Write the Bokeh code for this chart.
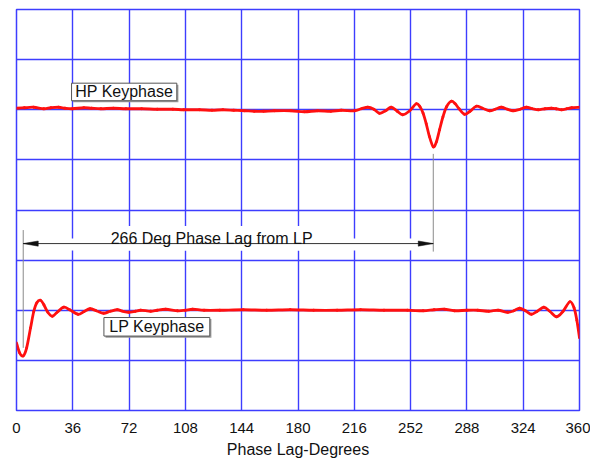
from bokeh.plotting import figure
from bokeh.models import Range1d, FixedTicker
from bokeh.core.properties import value
from bokeh.embed import file_html
from bokeh.resources import INLINE

# ---- data ----
x_ticks = [0, 36, 72, 108, 144, 180, 216, 252, 288, 324, 360]
y_grid = [0, 1, 2, 3, 4, 5, 6, 7, 8]

hp_x = [0, 5, 11, 17.5, 22, 27, 31, 35.7, 43, 48,
        54, 62, 70, 80, 90, 100, 107, 117, 125, 132,
        139, 146, 152, 158, 165, 175.5, 184, 192.6, 201, 207.6,
        216, 220.5, 224.7, 228.5, 232, 236, 239.6, 243.5, 247, 251.5,
        255.6, 258, 260, 262, 264, 266.5, 268.5, 270.5, 272.7, 275,
        278, 280.5, 283, 286.5, 290, 294, 298, 302.6, 306, 310,
        314, 317.5, 322, 326, 330, 333.6, 338, 342, 345, 348.5,
        352, 355, 360]
hp_y = [6.03, 6.04, 6.05, 6.02, 6.04, 6.05, 6.03, 6.02, 6.04, 6.03,
        6.02, 6.03, 6.02, 6.02, 6.01, 6.01, 6.00, 6.00, 5.99, 6.00,
        5.99, 5.98, 5.97, 5.97, 5.98, 5.98, 5.96, 5.98, 5.97, 5.99,
        5.98, 6.02, 6.05, 6.01, 5.93, 5.98, 6.05, 5.97, 5.90, 5.98,
        6.12, 6.06, 5.93, 5.72, 5.47, 5.26, 5.36, 5.60, 5.86, 6.06,
        6.17, 6.12, 6.02, 5.91, 5.97, 6.07, 6.03, 5.98, 6.01, 6.05,
        6.01, 5.98, 6.01, 6.05, 6.02, 6.00, 6.02, 6.03, 6.02, 6.00,
        6.02, 6.04, 6.05]

lp_x = [0, 2, 4.3, 6.5, 9, 11, 13, 15.4, 17.5, 20,
        22.9, 26, 30.3, 34, 39.3, 43, 47, 51, 55.7, 60,
        64.5, 68, 71.7, 76, 79.4, 85.8, 90, 95.4, 103, 108,
        112.6, 120, 130, 145, 160, 175, 190, 205, 220, 235,
        250, 260, 267, 273.6, 280, 288, 295, 302, 308, 314,
        318, 321.7, 325.5, 329.3, 333, 337.2, 341, 345.3, 349.5, 353.8,
        356.5, 358.3, 360]
lp_y = [1.35, 1.15, 1.09, 1.25, 1.65, 1.97, 2.15, 2.20, 2.11, 1.96,
        1.88, 1.96, 2.06, 2.01, 1.92, 1.97, 2.03, 1.99, 1.94, 1.98,
        2.01, 1.98, 1.96, 1.98, 2.00, 1.98, 2.00, 2.02, 1.99, 2.00,
        2.02, 2.00, 2.00, 2.01, 2.00, 2.01, 2.00, 2.00, 2.01, 2.00,
        2.00, 1.99, 2.01, 2.02, 1.99, 2.00, 2.00, 1.98, 2.00, 1.96,
        1.99, 2.04, 1.99, 1.92, 1.98, 2.06, 1.98, 1.87, 1.98, 2.17,
        2.05, 1.80, 1.45]

lag_start = 4.3      # LP keyphase event (deg)
lag_end = 266.5      # HP keyphase event (deg)
lag_label = "266 Deg Phase Lag from LP"
hp_label = "HP Keyphase"
lp_label = "LP Keyphase"
x_title = "Phase Lag-Degrees"

FONT = "Liberation Sans"
GRID = "#3d3dff"
RED = "#ff1010"

p = figure(width=590, height=460, output_backend="svg", toolbar_location=None,
           x_range=Range1d(0, 360), y_range=Range1d(0, 8),
           y_axis_location=None,
           min_border_left=16, min_border_right=11, min_border_top=9,
           min_border_bottom=47)
p.background_fill_color = "white"
p.border_fill_color = "white"
p.outline_line_color = GRID
p.outline_line_width = 1.5

p.xaxis.ticker = FixedTicker(ticks=x_ticks)
p.xgrid.ticker = FixedTicker(ticks=x_ticks)
p.ygrid.ticker = FixedTicker(ticks=y_grid)
for g in (p.xgrid, p.ygrid):
    g.grid_line_color = GRID
    g.grid_line_width = 1.4
p.xaxis.axis_line_color = None
p.xaxis.major_tick_line_color = None
p.xaxis.minor_tick_line_color = None
p.xaxis.major_label_standoff = 6
p.xaxis.major_label_text_font = FONT
p.xaxis.major_label_text_font_size = "15px"
p.xaxis.major_label_text_color = "#111111"
p.xaxis.axis_label = x_title
p.xaxis.axis_label_text_font = FONT
p.xaxis.axis_label_text_font_size = "16px"
p.xaxis.axis_label_text_font_style = "normal"
p.xaxis.axis_label_text_color = "#111111"
p.xaxis.axis_label_standoff = 5

# pixel scale helpers (frame 563 x 404 px)
dx = 360 / 563
dy = 8 / 404

# white masks behind the arrow and its text
p.quad(left=lag_start - 1, right=lag_end + 1, bottom=3.19, top=3.43,
       fill_color="white", line_color=None)
p.quad(left=56, right=194, bottom=3.19, top=3.68,
       fill_color="white", line_color=None)

# marker lines
p.segment(x0=[lag_start, lag_end], y0=[1.25, 5.12], x1=[lag_start, lag_end], y1=[3.6, 3.17],
          line_color="#8a8a8a", line_width=1)

# arrow line and heads
arrow_y = 3.33
head_len = 15 * dx
head_hw = 2.6 * dy
p.segment(x0=[lag_start], y0=[arrow_y], x1=[lag_end], y1=[arrow_y],
          line_color="#333333", line_width=1)
p.patches(xs=[[lag_start, lag_start + head_len, lag_start + head_len],
              [lag_end, lag_end - head_len, lag_end - head_len]],
          ys=[[arrow_y, arrow_y + head_hw, arrow_y - head_hw],
              [arrow_y, arrow_y + head_hw, arrow_y - head_hw]],
          fill_color="#111111", line_color="#111111", line_width=0.5)

p.text(x=[60.2], y=[3.43], text=[lag_label], text_font=value(FONT),
       text_font_size="16px", text_color="#111111",
       text_align="left", text_baseline="alphabetic")

# traces: smooth curves through the read points (Catmull-Rom -> Bezier glyphs)
def smooth_trace(xs, ys):
    n = len(xs)
    x0, y0, x1, y1, cx0, cy0, cx1, cy1 = ([] for _ in range(8))
    for i in range(n - 1):
        a = max(i - 1, 0)
        d = min(i + 2, n - 1)
        x0.append(xs[i]); y0.append(ys[i])
        x1.append(xs[i + 1]); y1.append(ys[i + 1])
        cx0.append(xs[i] + (xs[i + 1] - xs[a]) / 6)
        cy0.append(ys[i] + (ys[i + 1] - ys[a]) / 6)
        cx1.append(xs[i + 1] - (xs[d] - xs[i]) / 6)
        cy1.append(ys[i + 1] - (ys[d] - ys[i]) / 6)
    p.bezier(x0=x0, y0=y0, x1=x1, y1=y1, cx0=cx0, cy0=cy0, cx1=cx1, cy1=cy1,
             line_color=RED, line_width=2.8, line_cap="round")

smooth_trace(hp_x, hp_y)
smooth_trace(lp_x, lp_y)

# label boxes
def label_box(x0, x1, y0, y1, txt):
    p.quad(left=x0 + 1.6 * dx, right=x1 + 1.6 * dx, bottom=y0 - 1.6 * dy, top=y1 - 1.6 * dy,
           fill_color="#9a9a9a", line_color=None)
    p.quad(left=x0, right=x1, bottom=y0, top=y1, fill_color="white",
           line_color="#555555", line_width=1)
    p.text(x=[(x0 + x1) / 2], y=[(y0 + y1) / 2], text=[txt], text_font=value(FONT),
           text_font_size="16px", text_color="#111111",
           text_align="center", text_baseline="middle")

label_box(35.2, 102.5, 6.18, 6.53, hp_label)
label_box(55.9, 123.6, 1.485, 1.855, lp_label)

open("out.html", "w").write(file_html(p, INLINE))
